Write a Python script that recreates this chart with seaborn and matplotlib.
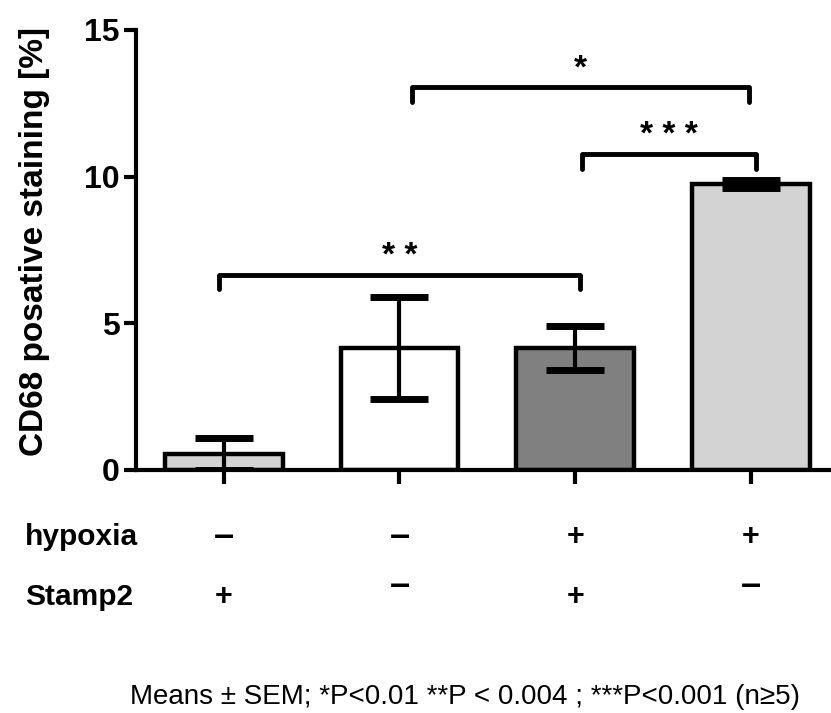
import matplotlib
matplotlib.use("Agg")
import matplotlib.pyplot as plt
import matplotlib.transforms as mtransforms
import seaborn as sns
import pandas as pd

# values
groups = ["g1", "g2", "g3", "g4"]
means = [0.55, 4.15, 4.15, 9.75]
sems = [0.55, 1.75, 0.75, 0.15]
bar_colors = ["#d3d3d3", "#ffffff", "#808080", "#d3d3d3"]
hypoxia = ["\u2013", "\u2013", "+", "+"]
stamp2 = ["+", "\u2013", "+", "\u2013"]

# significance brackets: (x1, x2, y, label)
brackets = [
    (-0.03, 2.03, 6.65, "* *"),
    (1.07, 2.99, 13.05, "*"),
    (2.04, 3.03, 10.77, "* * *"),
]

sns.set_theme(style="white")
plt.rcParams["font.family"] = ["Liberation Sans", "DejaVu Sans"]
plt.rcParams["text.color"] = "black"
plt.rcParams["axes.labelcolor"] = "black"
plt.rcParams["xtick.color"] = "black"
plt.rcParams["ytick.color"] = "black"

df = pd.DataFrame({"group": groups, "mean": means})

fig = plt.figure(figsize=(8.31, 7.13), dpi=100)
ax = fig.add_axes([0.1637, 0.341, 0.837, 0.617])

sns.barplot(data=df, x="group", y="mean", hue="group", palette=bar_colors,
            legend=False, width=0.67, edgecolor="black", linewidth=3.2,
            saturation=1, ax=ax, zorder=2)
ax.errorbar(range(len(means)), means, yerr=sems, fmt="none", ecolor="black",
            elinewidth=3, capsize=21, capthick=5, zorder=3)

for x1, x2, y, lab in brackets:
    ax.plot([x1, x1, x2, x2], [y - 0.5, y, y, y - 0.5], color="black",
            lw=3.5, solid_capstyle="round", solid_joinstyle="round", clip_on=False)
    ax.text((x1 + x2) / 2, y + 0.1, lab, ha="center", va="bottom",
            fontsize=24, fontweight="bold")

ax.set_ylim(0, 15)
ax.set_xlim(-0.5, 3.46)
ax.set_yticks([0, 5, 10, 15])
ax.set_xticks(range(len(groups)))
ax.set_xticklabels([])
ax.set_xlabel("")
ax.set_ylabel("CD68 posative staining [%]", fontsize=24, fontweight="bold")
ax.yaxis.set_label_coords(-0.124, 0.52)
ax.tick_params(axis="y", labelsize=23, length=9, width=3, direction="out", left=True, pad=3)
for lbl in ax.get_yticklabels():
    lbl.set_fontweight("bold")
ax.tick_params(axis="x", length=10, width=3, direction="out", bottom=True)
sns.despine(ax=ax, top=True, right=True)
for s in ["left", "bottom"]:
    ax.spines[s].set_linewidth(3)
    ax.spines[s].set_color("black")

trans = mtransforms.blended_transform_factory(ax.transData, ax.transAxes)
for i in range(len(groups)):
    h_minus = hypoxia[i] != "+"
    s_minus = stamp2[i] != "+"
    ax.text(i, -0.152, hypoxia[i], transform=trans, ha="center", va="center",
            fontsize=26 if h_minus else 22, fontweight="bold")
    ax.text(i, -0.262 if s_minus else -0.289, stamp2[i], transform=trans,
            ha="center", va="center", fontsize=26 if s_minus else 22, fontweight="bold")

fig.text(0.03, 1 - 537 / 713, "hypoxia", ha="left", va="center", fontsize=21.5, fontweight="bold")
fig.text(0.03, 1 - 597 / 713, "Stamp2", ha="left", va="center", fontsize=21.5, fontweight="bold")
fig.text(0.56, 1 - 697 / 713,
         "Means \u00b1 SEM; *P<0.01 **P < 0.004 ; ***P<0.001 (n\u22655)",
         ha="center", va="center", fontsize=20)

fig.savefig("out.png", dpi=100)
